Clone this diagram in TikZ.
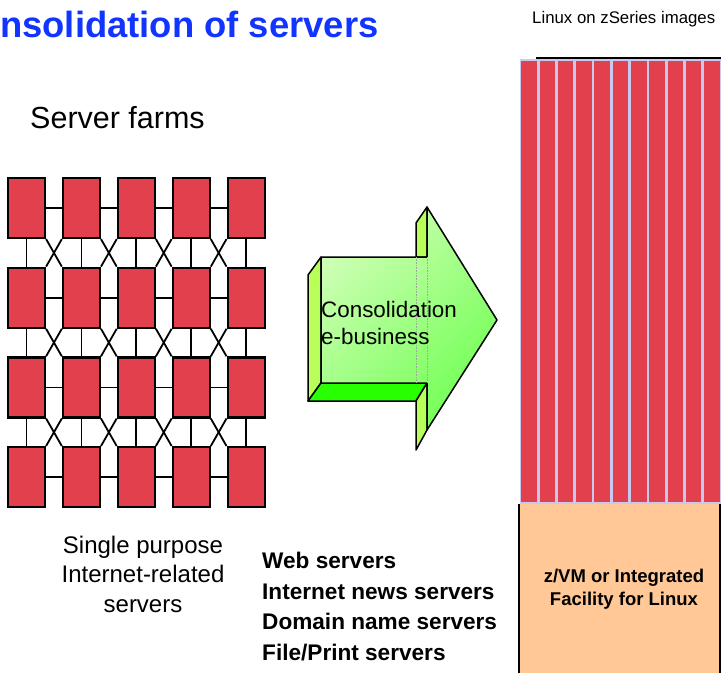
\documentclass[tikz,border=0pt]{standalone}
\usepackage{fontspec}
\setmainfont{Liberation Sans}
\definecolor{srvred}{RGB}{226,64,77}
\definecolor{barline}{RGB}{200,200,240}
\definecolor{peach}{RGB}{255,200,150}
\definecolor{titleblue}{RGB}{18,52,255}
\definecolor{sidegreen}{RGB}{185,255,90}
\definecolor{floorgreen}{RGB}{40,255,0}
\definecolor{frontlight}{RGB}{205,255,180}
\definecolor{frontdark}{RGB}{115,255,85}
\begin{document}
\begin{tikzpicture}[x=1pt,y=-1pt,
    srv/.style={draw,line width=2.2pt,fill=srvred,minimum width=37pt,minimum height=60pt,inner sep=0pt},
    wire/.style={line width=1.8pt},
    bar/.style={draw=barline,fill=srvred,line width=1.5pt},
    face/.style={draw,line width=1.5pt,line join=round}]
  \useasboundingbox (0,0) rectangle (722,673);

  \node[anchor=base west,inner sep=0pt,text=titleblue,font=\fontsize{36.4}{40}\selectfont\bfseries]
    (title) at (-48.5,37) {Consolidation of servers};
  \node[anchor=base west,inner sep=0pt,font=\fontsize{30.5}{36}\selectfont]
    (farms) at (30,128) {Server farms};
  \node[anchor=base west,inner sep=0pt,font=\fontsize{16.8}{20}\selectfont]
    (images) at (532,23) {Linux on zSeries images};

  % server farm
  \foreach \c in {1,...,5}
    \foreach \r in {1,...,4}
      \node[srv] (s\c\r) at ({26.5+54.9*(\c-1)},{208+89.7*(\r-1)}) {};
  \foreach \c [evaluate=\c as \n using int(\c+1)] in {1,...,4} {
    \foreach \r in {1,...,4}
      \draw[wire] (s\c\r.east) -- (s\n\r.west);
  }
  \foreach \c in {1,...,5} {
    \foreach \r [evaluate=\r as \m using int(\r+1)] in {1,2,3}
      \draw[wire] (s\c\r.south) -- (s\c\m.north);
  }
  \foreach \c [evaluate=\c as \n using int(\c+1)] in {1,...,4} {
    \foreach \r [evaluate=\r as \m using int(\r+1)] in {1,2,3} {
      \draw[wire] (s\c\r.south east) -- (s\n\m.north west);
      \draw[wire] (s\n\r.south west) -- (s\c\m.north east);
    }
  }

  \node[align=center,inner sep=0pt,anchor=base,font=\fontsize{24}{29.5}\selectfont]
    (purpose) at (143,612) {Single purpose\\Internet-related\\servers};
  \node[align=left,inner sep=0pt,anchor=base west,font=\fontsize{22.6}{30.5}\selectfont\bfseries]
    (list) at (262,660) {Web servers\\Internet news servers\\Domain name servers\\File/Print servers};

  % 3d arrow
  \draw[face,fill=sidegreen] (321,257) -- (308,275) -- (308,401) -- (321,383) -- cycle;
  \draw[face,fill=floorgreen] (321,383) -- (427,383) -- (416,401) -- (308,401) -- cycle;
  \draw[face,fill=sidegreen] (427,207) -- (416,223) -- (416,257) -- (427,257) -- cycle;
  \draw[face,fill=sidegreen] (427,383) -- (427,430) -- (416,450) -- (416,401) -- cycle;
  \draw[face,top color=frontlight,bottom color=frontdark,shading angle=45]
    (321,257) -- (427,257) -- (427,207) -- (497,320) -- (427,430) -- (427,383) -- (321,383) -- cycle;
  \draw[densely dotted,black!35,line width=0.6pt] (416,257) -- (416,383) (427,257) -- (427,383);
  \node[align=left,inner sep=0pt,anchor=base west,font=\fontsize{22.4}{27}\selectfont]
    (consol) at (321,344) {Consolidation\\e-business};

  % linux images
  \draw[line width=1.5pt] (536,58) -- (721,58);
  \foreach \i in {0,...,10}
    \draw[bar] ({520.5+18.3*\i},60) rectangle ++(17,443);
  \fill[peach] (519,504) rectangle (720,673);
  \draw[line width=1.5pt] (519,504) -- (519,673) (720,504) -- (720,673);
  \node[align=center,inner sep=0pt,anchor=base,font=\fontsize{18.5}{23}\selectfont\bfseries]
    (zvm) at (624,605) {z/VM or Integrated\\Facility for Linux};
\end{tikzpicture}
\end{document}
